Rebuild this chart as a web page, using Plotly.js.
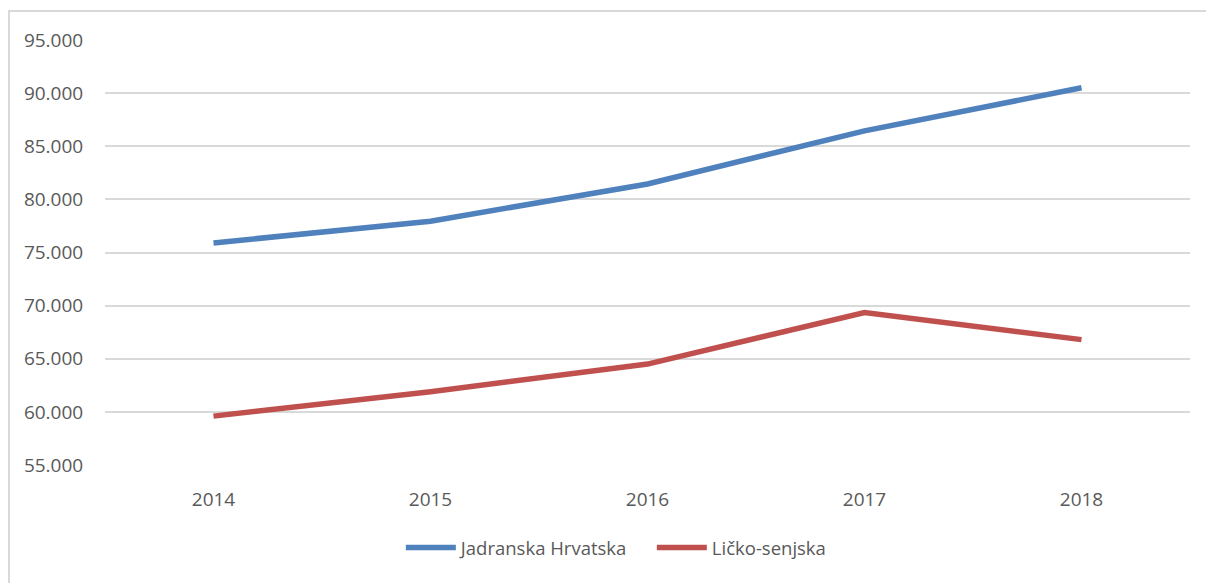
<!DOCTYPE html>
<html><head><meta charset="utf-8">
<script src="https://cdn.plot.ly/plotly-3.0.1.min.js"></script>
<style>html,body{margin:0;padding:0;background:#fff;}#chart{width:1206px;height:583px;}</style>
</head><body><div id="chart"></div>
<script>
var years = ['2014','2015','2016','2017','2018'];
var jadranska = [75900, 77950, 81450, 86450, 90500];
var licko = [59600, 61900, 64500, 69350, 66800];
var yTicks = [55000,60000,65000,70000,75000,80000,85000,90000,95000];
var yTickText = ['55.000','60.000','65.000','70.000','75.000','80.000','85.000','90.000','95.000'];

var fontFam = 'Open Sans, Noto Sans, sans-serif';
var traces = [
  {x: years, y: jadranska, name: 'Jadranska Hrvatska', type: 'scatter', mode: 'lines',
   line: {color: '#4F81BD', width: 5.5}},
  {x: years, y: licko, name: 'Ličko-senjska', type: 'scatter', mode: 'lines',
   line: {color: '#C0504D', width: 5.5}}
];
var layout = {
  width: 1206, height: 583,
  margin: {l: 105, r: 16, t: 40, b: 118},
  paper_bgcolor: '#fff', plot_bgcolor: '#fff',
  showlegend: true,
  legend: {orientation: 'h', x: 0.504, xanchor: 'center', y: -0.195, yanchor: 'middle',
           font: {family: fontFam, size: 18.5, color: '#595959'}, itemwidth: 50,
           entrywidth: 186, tracegroupgap: 0},
  xaxis: {type: 'category', range: [-0.5, 4.5], showgrid: false, zeroline: false,
          showline: false, ticks: 'outside', ticklen: 17, tickcolor: 'rgba(0,0,0,0)',
          tickfont: {family: fontFam, size: 19, color: '#595959'}},
  yaxis: {range: [55000, 95000], tickvals: yTicks, ticktext: yTickText,
          showgrid: true, gridcolor: '#d9d9d9', gridwidth: 2, zeroline: false, showline: false,
          ticks: 'outside', ticklen: 17, tickcolor: 'rgba(0,0,0,0)',
          tickfont: {family: fontFam, size: 19, color: '#595959'}},
  shapes: [{type: 'rect', xref: 'paper', yref: 'paper', x0: -0.0885, x1: 1.2, y0: -0.6, y1: 1.068,
            line: {color: '#d9d9d9', width: 2}, fillcolor: 'rgba(0,0,0,0)', layer: 'below'}]
};
Plotly.newPlot('chart', traces, layout, {displayModeBar: false, staticPlot: true});
</script></body></html>
